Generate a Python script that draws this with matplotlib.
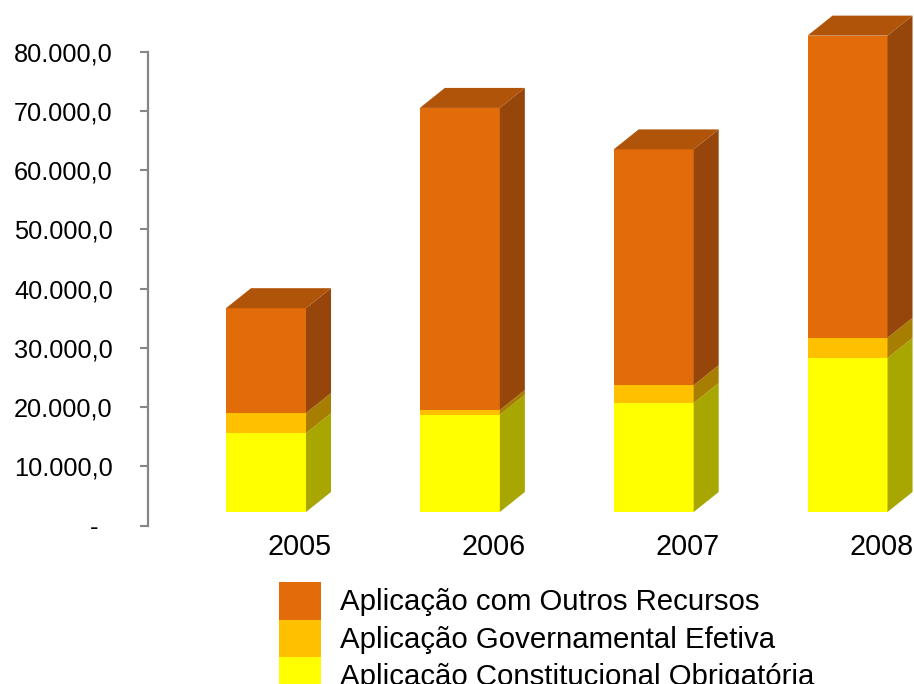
import matplotlib
matplotlib.use("Agg")
import matplotlib.pyplot as plt
from matplotlib.patches import Polygon, Patch
from matplotlib.transforms import ScaledTranslation

# ---------------- data ----------------
years = ["2005", "2006", "2007", "2008"]
constitucional = [13300, 16400, 18400, 26000]   # Aplicação Constitucional Obrigatória
governamental = [3400, 800, 3000, 3400]         # Aplicação Governamental Efetiva
outros = [17700, 51000, 39800, 51000]           # Aplicação com Outros Recursos
series_names = ["Aplicação com Outros Recursos",
                "Aplicação Governamental Efetiva",
                "Aplicação Constitucional Obrigatória"]
ytick_values = [0, 10000, 20000, 30000, 40000, 50000, 60000, 70000, 80000]
ytick_labels = ["-  ", "10.000,0", "20.000,0", "30.000,0", "40.000,0",
                "50.000,0", "60.000,0", "70.000,0", "80.000,0"]

# ---------------- style ----------------
front = {"outros": "#E36C0A", "gov": "#FFC000", "const": "#FFFF00"}
side = {"outros": "#96460A", "gov": "#A87E00", "const": "#A8A600"}
top_col = "#B0540A"
axis_grey = "#868686"
FONT = "Liberation Sans"

W, H, DPI = 914, 684, 100
fig = plt.figure(figsize=(W / DPI, H / DPI), dpi=DPI)
ax_left, ax_right = 148, 914
ax_bot, ax_top = 525.7, 51.7
ax = fig.add_axes([ax_left / W, 1 - ax_bot / H, (ax_right - ax_left) / W,
                   (ax_bot - ax_top) / H])

x0, x1 = -0.6088, 3.343
ax.set_xlim(x0, x1)
ax.set_ylim(0, 80000)

px_per_x = (ax_right - ax_left) / (x1 - x0)
px_per_y = (ax_bot - ax_top) / 80000
bar_w = 80 / px_per_x
depth_x = 25 / px_per_x
depth_y = 20 / px_per_y

# bars sit slightly back on the floor: shift up in display space
shift = ScaledTranslation(0, 13.7 / DPI, fig.dpi_scale_trans)
trans = ax.transData + shift

xs = list(range(len(years)))
layers = [("const", constitucional), ("gov", governamental), ("outros", outros)]
bottoms = [0.0] * len(years)
for key, vals in layers:
    for i, (x, v) in enumerate(zip(xs, vals)):
        b = bottoms[i]
        t = b + v
        xl = x - bar_w / 2
        xr = x + bar_w / 2
        ax.add_patch(plt.Rectangle((xl, b), bar_w, v, facecolor=front[key],
                                   edgecolor="none", transform=trans, clip_on=False))
        ax.add_patch(Polygon([(xr, b), (xr + depth_x, b + depth_y),
                              (xr + depth_x, t + depth_y), (xr, t)],
                             closed=True, facecolor=side[key], edgecolor="none",
                             transform=trans, clip_on=False))
        bottoms[i] = t

for i, x in enumerate(xs):
    T = bottoms[i]
    xl = x - bar_w / 2
    xr = x + bar_w / 2
    ax.add_patch(Polygon([(xl, T), (xl + depth_x, T + depth_y),
                          (xr + depth_x, T + depth_y), (xr, T)],
                         closed=True, facecolor=top_col, edgecolor="none",
                         transform=trans, clip_on=False))

# axes styling
for s in ["top", "right", "bottom"]:
    ax.spines[s].set_visible(False)
ax.spines["left"].set_color(axis_grey)
ax.spines["left"].set_linewidth(1.6)
ax.set_yticks(ytick_values)
ax.set_yticklabels(ytick_labels, fontsize=18.3, family=FONT)
ax.tick_params(axis="y", direction="out", length=5.8, width=1.5, color=axis_grey,
               pad=19.5)
ax.set_xticks(xs)
ax.set_xticklabels(years, fontsize=20.7, family=FONT)
ax.tick_params(axis="x", length=0, pad=5)
lab_shift = ScaledTranslation(34 / DPI, 0, fig.dpi_scale_trans)
for lbl in ax.get_xticklabels():
    lbl.set_transform(lbl.get_transform() + lab_shift)

# legend (rows touching, 37.5 px pitch)
handles = [Patch(facecolor=front["outros"]), Patch(facecolor=front["gov"]),
           Patch(facecolor=front["const"])]
fs = 21.2
pitch_pt = 37.5 * 72 / DPI
hh = (pitch_pt / fs - 0.245) / 0.65
fig.legend(handles, series_names, loc="upper left",
           bbox_to_anchor=(279 / W, 1 - 582 / H), bbox_transform=fig.transFigure,
           frameon=False, borderpad=0, borderaxespad=0, labelspacing=0,
           handleheight=hh, handlelength=(42 * 72 / DPI) / fs,
           handletextpad=(19 * 72 / DPI) / fs, prop={"family": FONT, "size": fs})

fig.savefig("out.png", dpi=DPI)
